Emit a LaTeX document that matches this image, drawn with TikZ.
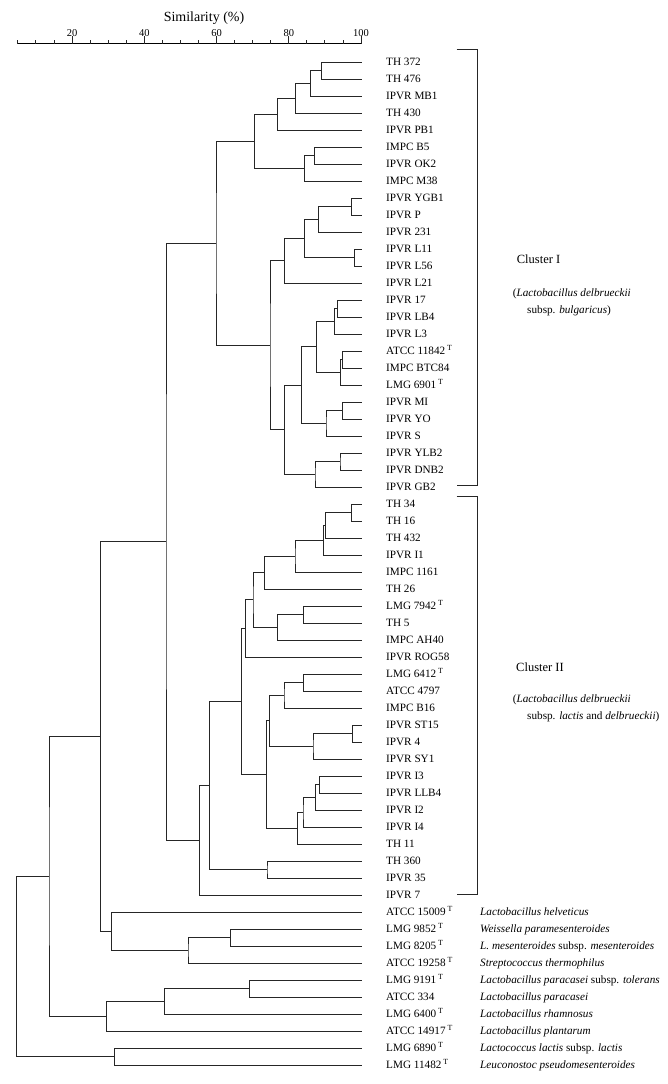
\documentclass[tikz,border=0pt]{standalone}
\usepackage{fontspec}
\setmainfont{Liberation Serif}
\usetikzlibrary{calc}
\newcommand\mkjoin[4]{%
  \path let \p1=(#3), \p2=(#4) in (#2,{0.5*(\y1+\y2)}) coordinate (#1);
  \draw[br] (#3) -| (#1) |- (#4);
}
\begin{document}
\begin{tikzpicture}[x=1pt,y=1pt,
  br/.style={line width=0.8pt, draw=black!85},
  lab/.style={anchor=base west, inner sep=0pt, font=\fontsize{11.2}{13}\selectfont},
  sp/.style={anchor=base west, inner sep=0pt, font=\fontsize{11.2}{13}\selectfont},
  cl/.style={anchor=base west, inner sep=0pt, font=\fontsize{12.5}{14}\selectfont},
  num/.style={anchor=base, inner sep=0pt, font=\fontsize{10.5}{12}\selectfont},
  tick/.style={line width=0.8pt, draw=black!85}]
\useasboundingbox (0,0) rectangle (668,-1084);

% scale
\node[anchor=base, inner sep=0pt, font=\fontsize{14}{16}\selectfont] (title) at (204,-21.5) {Similarity (\%)};
\draw[line width=1.6pt] (17,-43.5) coordinate (ax0) -- (361.5,-43.5) coordinate (ax1);
\foreach \p in {5,10,15,25,30,35,45,50,55,65,70,75,85,90,95} {
  \pgfmathsetmacro\tx{361-(100-\p)*3.6125}
  \draw[tick] (\tx,-43.5) -- ++(0,3.8);
}
\foreach \p in {20,40,60,80,100} {
  \pgfmathsetmacro\tx{361-(100-\p)*3.6125}
  \draw[tick] (\tx,-43.5) -- ++(0,7.5);
  \node[num] (n\p) at (\tx,-36) {\p};
}

% leaves
\foreach \lbl [count=\i from 0] in {TH 372, TH 476, IPVR MB1, TH 430, IPVR PB1, IMPC B5, IPVR OK2, IMPC M38, IPVR YGB1, IPVR P, IPVR 231, IPVR L11, IPVR L56, IPVR L21, IPVR 17, IPVR LB4, IPVR L3, ATCC 11842\,\textsuperscript{T}, IMPC BTC84, LMG 6901\,\textsuperscript{T}, IPVR MI, IPVR YO, IPVR S, IPVR YLB2, IPVR DNB2, IPVR GB2, TH 34, TH 16, TH 432, IPVR I1, IMPC 1161, TH 26, LMG 7942\,\textsuperscript{T}, TH 5, IMPC AH40, IPVR ROG58, LMG 6412\,\textsuperscript{T}, ATCC 4797, IMPC B16, IPVR ST15, IPVR 4, IPVR SY1, IPVR I3, IPVR LLB4, IPVR I2, IPVR I4, TH 11, TH 360, IPVR 35, IPVR 7, ATCC 15009\,\textsuperscript{T}, LMG 9852\,\textsuperscript{T}, LMG 8205\,\textsuperscript{T}, ATCC 19258\,\textsuperscript{T}, LMG 9191\,\textsuperscript{T}, ATCC 334, LMG 6400\,\textsuperscript{T}, ATCC 14917\,\textsuperscript{T}, LMG 6890\,\textsuperscript{T}, LMG 11482\,\textsuperscript{T}} {
  \coordinate (L\i) at (361.5,{-(62+17*\i)});
  \node[lab] (T\i) at (386,{-(62+17*\i)-3.8}) {\lbl};
}

% species names
\foreach \i/\s in {50/{\textit{Lactobacillus helveticus}},
  51/{\textit{Weissella paramesenteroides}},
  52/{\textit{L. mesenteroides} subsp. \textit{mesenteroides}},
  53/{\textit{Streptococcus thermophilus}},
  54/{\textit{Lactobacillus paracasei} subsp. \textit{tolerans}},
  55/{\textit{Lactobacillus paracasei}},
  56/{\textit{Lactobacillus rhamnosus}},
  57/{\textit{Lactobacillus plantarum}},
  58/{\textit{Lactococcus lactis} subsp. \textit{lactis}},
  59/{\textit{Leuconostoc pseudomesenteroides}}} {
  \node[sp] (S\i) at (480,{-(62+17*\i)-3.8}) {\s};
}

% cluster I
\mkjoin{a1}{321.7}{L0}{L1}
\mkjoin{a2}{310.3}{a1}{L2}
\mkjoin{a3}{295.3}{a2}{L3}
\mkjoin{a4}{277.3}{a3}{L4}
\mkjoin{a5}{314.7}{L5}{L6}
\mkjoin{a6}{304.3}{a5}{L7}
\mkjoin{a7}{254.3}{a4}{a6}
\mkjoin{b1}{351.3}{L8}{L9}
\mkjoin{b2}{318.7}{b1}{L10}
\mkjoin{b3}{354.7}{L11}{L12}
\mkjoin{b4}{304.3}{b2}{b3}
\mkjoin{b5}{284.3}{b4}{L13}
\mkjoin{c1}{337.3}{L14}{L15}
\mkjoin{c2}{334.3}{c1}{L16}
\mkjoin{c3}{342.3}{L17}{L18}
\mkjoin{c4}{340.7}{c3}{L19}
\mkjoin{c5}{316.7}{c2}{c4}
\mkjoin{c6}{342.3}{L20}{L21}
\mkjoin{c7}{326}{c6}{L22}
\mkjoin{c8}{301.7}{c5}{c7}
\mkjoin{c9}{340}{L23}{L24}
\mkjoin{c10}{315}{c9}{L25}
\mkjoin{c11}{284.7}{c8}{c10}
\mkjoin{b6}{270}{b5}{c11}
\mkjoin{cI}{216}{a7}{b6}

% cluster II
\mkjoin{d1}{351.7}{L26}{L27}
\mkjoin{d2}{325.7}{d1}{L28}
\mkjoin{d3}{323.3}{d2}{L29}
\mkjoin{d4}{295}{d3}{L30}
\mkjoin{d5}{264.3}{d4}{L31}
\mkjoin{d6}{303.7}{L32}{L33}
\mkjoin{d7}{277.7}{d6}{L34}
\mkjoin{d8}{253}{d5}{d7}
\mkjoin{d9}{245.7}{d8}{L35}
\mkjoin{e1}{303.7}{L36}{L37}
\mkjoin{e2}{284}{e1}{L38}
\mkjoin{e3}{352.3}{L39}{L40}
\mkjoin{e4}{313}{e3}{L41}
\mkjoin{e5}{269.3}{e2}{e4}
\mkjoin{e6}{319.3}{L42}{L43}
\mkjoin{e7}{315.3}{e6}{L44}
\mkjoin{e8}{303}{e7}{L45}
\mkjoin{e9}{297.3}{e8}{L46}
\mkjoin{e10}{266.3}{e5}{e9}
\mkjoin{d10}{241.7}{d9}{e10}
\mkjoin{f1}{267}{L47}{L48}
\mkjoin{d11}{209.3}{d10}{f1}
\mkjoin{cII}{199.3}{d11}{L49}

% outgroups and root
\mkjoin{r1}{166}{cI}{cII}
\mkjoin{g1}{230.3}{L51}{L52}
\mkjoin{g2}{188}{g1}{L53}
\mkjoin{g3}{111.7}{L50}{g2}
\mkjoin{r2}{100.7}{r1}{g3}
\mkjoin{h1}{249.3}{L54}{L55}
\mkjoin{h2}{164.7}{h1}{L56}
\mkjoin{h3}{106.7}{h2}{L57}
\mkjoin{r3}{49}{r2}{h3}
\mkjoin{k1}{114.3}{L58}{L59}
\mkjoin{root}{16.7}{r3}{k1}

% brackets
\coordinate (BIa) at (456.7,-49.3);
\coordinate (BIb) at (456.7,-485.7);
\draw[br] (BIa) -- ++(21,0) |- (BIb);
\coordinate (BIIa) at (456.7,-496.7);
\coordinate (BIIb) at (456.7,-894);
\draw[br] (BIIa) -- ++(21,0) |- (BIIb);

% cluster labels
\node[cl] (CI) at (516.7,-263.5) {Cluster I};
\node[lab] (CIa) at (512.7,-296) {(\textit{Lactobacillus delbrueckii}};
\node[lab] (CIb) at (527,-313) {subsp. \textit{bulgaricus})};
\node[cl] (CII) at (516,-671.5) {Cluster II};
\node[lab] (CIIa) at (512.7,-702) {(\textit{Lactobacillus delbrueckii}};
\node[lab] (CIIb) at (527,-719) {subsp. \textit{lactis} and \textit{delbrueckii})};
\end{tikzpicture}
\end{document}
